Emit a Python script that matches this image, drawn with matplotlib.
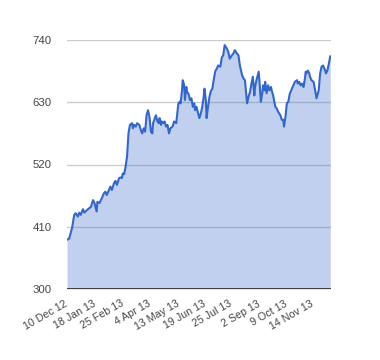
import numpy as np
import matplotlib
matplotlib.use('Agg')
import matplotlib.pyplot as plt

# daily closes, as day offsets from 10 Dec 2012
START = np.datetime64('2012-12-10')

days = [0, 3, 7, 10, 12, 15, 17, 19, 22, 24, 28, 31, 33, 36, 38, 41, 42, 45,
        48, 51, 53, 55, 58, 60, 62, 65, 67, 69, 72, 74, 76, 77, 79, 81, 83,
        85, 87, 90, 91, 93, 95, 97, 100, 102, 104, 106, 108, 110, 112, 114,
        116, 118, 119, 122, 123, 125, 127, 128, 130, 131, 133, 135, 137, 139,
        141, 143, 146, 148, 151, 153, 154, 156, 157, 159, 160, 162, 163, 165,
        166, 168, 170, 172, 174, 176, 177, 179, 182, 183, 185, 187, 189, 190,
        192, 193, 195, 197, 199, 201, 202, 205, 207, 209, 212, 214, 216, 218,
        221, 223, 225, 228, 230, 232, 235, 237, 239, 242, 244, 246, 249, 251,
        253, 255, 257, 259, 260, 262, 265, 266, 268, 270, 271, 273, 274, 276,
        278, 280, 282, 283, 285, 288, 290, 292, 295, 297, 299, 300, 302, 304,
        306, 308, 311, 313, 315, 318, 319, 321, 323, 325, 327, 329, 330, 331,
        333, 335, 336, 338, 341, 343, 345, 348, 350, 352, 354, 357, 358, 360,
        362, 364]

prices = [387, 389, 408, 431, 434, 428, 435, 431, 441, 435, 440, 443, 445,
          457, 452, 437, 454, 452, 460, 469, 472, 466, 475, 481, 475, 487,
          491, 484, 496, 497, 496, 504, 503, 516, 534,
          575, 590, 593, 584, 590, 587, 593, 590, 581, 575, 584, 578, 607,
          616, 604, 578, 575, 593, 604, 607, 596, 593, 602, 590, 596, 593,
          596, 587, 590, 575, 584, 587, 596, 593, 616, 628, 631, 628, 651,
          669, 660, 634, 657, 648, 645, 634, 637, 622, 628, 616, 622, 607,
          602, 610, 622, 640, 654, 634, 602, 622, 640, 650, 654, 663, 685,
          689, 695, 693, 709, 713, 731, 725, 719, 707, 713, 716, 722, 716,
          713, 695, 678, 672, 669, 628, 640, 648, 663, 675, 642, 657, 669,
          684, 669, 631, 646, 660, 651, 666, 646, 660, 651, 657, 651, 642,
          622, 619, 613, 607, 599, 599, 587, 604, 628, 631, 645, 654, 660,
          666, 669, 663, 666, 660, 663, 657, 672, 684, 681, 686, 681, 675,
          669, 666, 651, 637, 651, 681, 693, 695, 686, 681, 686, 698, 711]

tick_days = [0, 39, 77, 115, 154, 191, 227, 266, 303, 339]
y_ticks = [300, 410, 520, 630, 740]

LINE = '#3366cc'
TEXT = '#444444'

plt.rcParams['font.family'] = ['Liberation Sans', 'DejaVu Sans']

dates = (START + np.array(days, dtype='timedelta64[D]')).astype(object)
tick_dates = (START + np.array(tick_days, dtype='timedelta64[D]')).astype(object)

fig = plt.figure(figsize=(3.8, 3.6), dpi=100)
ax = fig.add_axes([67 / 380, 1 - 289 / 360, 264 / 380, 249 / 360])

ax.fill_between(dates, 300, prices, color=LINE, alpha=0.3, linewidth=0, zorder=2)
ax.plot(dates, prices, color=LINE, linewidth=1.5, zorder=3)

ax.set_ylim(300, 740)
ax.set_xlim(START.astype(object), (START + np.timedelta64(365, 'D')).astype(object))
ax.set_yticks(y_ticks)
ax.set_yticklabels([str(v) for v in y_ticks], fontsize=8.2)
for v in y_ticks[1:]:
    ax.axhline(v, color='#cccccc', linewidth=1, zorder=1)
ax.axhline(300, color='#333333', linewidth=1.3, zorder=4)

ax.set_xticks(tick_dates)
ax.set_xticklabels([d.strftime('%-d %b %y') for d in tick_dates], fontsize=7.7,
                   rotation=30, ha='right', va='center', rotation_mode='anchor')

ax.tick_params(axis='both', length=0, labelcolor=TEXT)
ax.tick_params(axis='y', pad=11)
ax.tick_params(axis='x', pad=10)
for s in ax.spines.values():
    s.set_visible(False)

fig.savefig('out.png', dpi=100)
